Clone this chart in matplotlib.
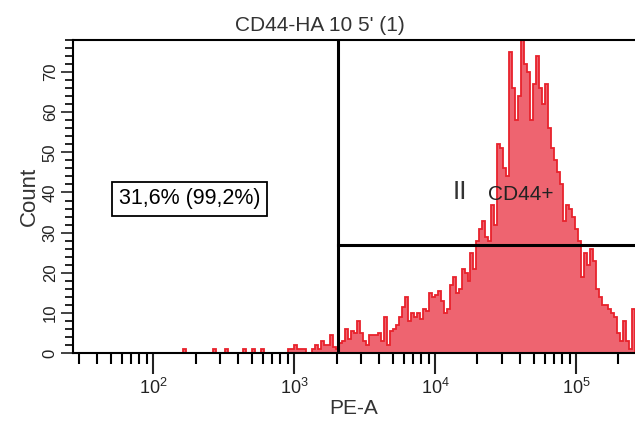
import numpy as np
import matplotlib.pyplot as plt
from matplotlib.ticker import FixedLocator, LogLocator, NullFormatter

plt.rcParams['font.family'] = ['Liberation Sans', 'DejaVu Sans']
plt.rcParams['mathtext.fontset'] = 'custom'
plt.rcParams['mathtext.rm'] = 'Liberation Sans'

# histogram counts, one per log-spaced channel from ~156 to 262144 (PE-A)
low_counts = [0, 1, 0, 0, 0, 0, 0, 0, 0, 0, 0, 1, 0, 0, 0, 1, 0, 0, 0, 0,
              0, 1, 0, 0, 1, 0, 0, 1, 0, 0, 0, 0, 0, 0, 0, 0, 1, 1, 2, 1,
              1, 1, 0, 0, 1, 2, 1, 3, 2, 2]
main_counts = [4.5, 1.5, 1, 2.4, 3, 6, 3.5, 5.5, 5, 8,
               5, 3, 2, 4.5, 4.5, 4.5, 5, 3, 9, 2,
               5.5, 6, 7, 9, 11.5, 14, 8, 10, 9, 10,
               8.5, 11, 10.5, 15, 14, 14.5, 15.5, 13, 10, 11,
               17, 19, 15, 16, 21, 20, 18, 25, 21, 28,
               31, 33, 29, 28, 37, 32, 52, 51, 46, 44,
               75, 66, 58, 64, 78, 72, 70, 58, 67, 74,
               66, 62, 67, 56, 51, 48, 45, 42, 33, 37,
               36, 34, 31, 28, 19, 25, 22, 26, 23, 16,
               14, 12, 12, 11, 10, 9, 5, 3, 8, 3,
               1, 11]
counts = np.array(low_counts + main_counts, dtype=float)

x_min, x_max = 27, 262144
hist_start = 156
gate_x = 2050
gate_y = 27
y_max = 78

edges = np.logspace(np.log10(hist_start), np.log10(x_max), len(counts) + 1)

fig = plt.figure(figsize=(6.35, 4.21), dpi=100)
ax = fig.add_axes([73 / 635, 68 / 421, 562 / 635, 313 / 421])

ax.stairs(counts, edges, fill=True, color='#ee6470', baseline=0)
ax.stairs(counts, edges, color='#e8222c', linewidth=1.3, baseline=0)

ax.axvline(gate_x, color='black', linewidth=2.2)
ax.plot([gate_x, x_max], [gate_y, gate_y], color='black', linewidth=2.2)

ax.set_xscale('log')
ax.set_xlim(x_min, x_max)
ax.set_ylim(0, y_max)

ax.xaxis.set_major_locator(FixedLocator([1e2, 1e3, 1e4, 1e5]))
ax.xaxis.set_minor_locator(LogLocator(base=10, subs=np.arange(2, 10)))
ax.xaxis.set_minor_formatter(NullFormatter())
ax.set_xticklabels([r'$10^{2}$', r'$10^{3}$', r'$10^{4}$', r'$10^{5}$'])
ax.tick_params(axis='x', which='major', length=15, width=1.5, labelsize=13,
               pad=3, colors='#222222')
ax.tick_params(axis='x', which='minor', length=8, width=1.5)

ax.yaxis.set_major_locator(FixedLocator(np.arange(0, 80, 10)))
ax.yaxis.set_minor_locator(FixedLocator(np.arange(0, 79, 2)))
ax.tick_params(axis='y', which='major', length=9, width=1.2, labelsize=12,
               labelrotation=90, pad=2, colors='#222222')
ax.tick_params(axis='y', which='minor', length=6, width=1.2)
for lbl in ax.get_yticklabels():
    lbl.set_verticalalignment('center')

for side in ['left', 'bottom', 'top']:
    ax.spines[side].set_linewidth(1.5)
ax.spines['right'].set_visible(False)

ax.set_xlabel('PE-A', fontsize=15, color='#333333', labelpad=1)
ax.set_ylabel('Count', fontsize=16, color='#333333', labelpad=2)
fig.text(0.503, 0.94, "CD44-HA 10 5' (1)", fontsize=15, color='#333333',
         ha='center', va='center')

ax.text(181, 38.4, '31,6% (99,2%)', fontsize=15.5, ha='center', va='center',
        color='black',
        bbox=dict(boxstyle='square,pad=0.3', facecolor='white',
                  edgecolor='black', linewidth=1.3))
ax.text(15000, 40, 'II', fontsize=19, ha='center', va='center', color='#333333')
ax.text(40400, 39.5, 'CD44+', fontsize=15, ha='center', va='center', color='#222222')

fig.savefig('out.png', dpi=100)
